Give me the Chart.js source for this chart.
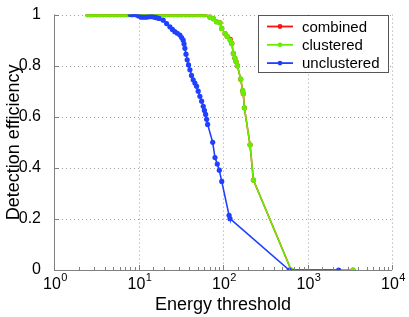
<!DOCTYPE html>
<html>
<head>
<meta charset="utf-8">
<script src="https://cdn.jsdelivr.net/npm/chart.js@4.4.1/dist/chart.umd.min.js"></script>
<style>
  body { margin: 0; background: #fff; }
  canvas { display: block; }
</style>
</head>
<body>
<canvas id="myChart1" width="409" height="317"></canvas>
<script>
// values
var seriesNames = ['combined', 'clustered', 'unclustered'];

var clusteredX = [2.5, 2.7, 2.9, 3.2, 3.5, 3.8, 4.2, 4.6, 5.1, 5.6,
    6.2, 6.8, 7.5, 8.3, 9.2, 10.2, 11.3, 12.5, 13.9, 15.4,
    17, 19, 21, 23.5, 26, 29, 32, 36, 40, 44,
    49, 54, 58, 61, 70, 77, 84, 92, 96.5, 105.7,
    112, 121, 127, 132.5, 138, 142.6, 148, 162, 171, 174,
    179, 209, 229, 641, 3460];
var clusteredY = [1, 1, 1, 1, 1, 1, 1, 1, 1, 1,
    1, 1, 1, 1, 1, 1, 1, 1, 1, 1,
    1, 1, 1, 1, 1, 1, 1, 1, 1, 1,
    1, 1, 1, 1, 0.991, 0.984, 0.972, 0.968, 0.946, 0.926,
    0.915, 0.9, 0.887, 0.848, 0.83, 0.816, 0.8, 0.747, 0.702, 0.69,
    0.635, 0.49, 0.352, 0, 0];

var combinedX = [2.5, 2.7, 2.9, 3.2, 3.5, 3.8, 4.2, 4.6, 5.1, 5.6,
    6.2, 6.8, 7.5, 8.3, 9.2, 10.2, 11.3, 12.5, 13.9, 15.4,
    17, 19, 21, 23.5, 26, 29, 32, 36, 40, 44,
    49, 54, 58, 61, 70, 77, 84, 92, 96.5, 105.7,
    112, 122, 127, 132.5, 138, 142.6, 148, 162, 171, 174,
    179, 209, 229, 641, 3460];
var combinedY = [1, 1, 1, 1, 1, 1, 1, 1, 1, 1,
    1, 1, 1, 1, 1, 1, 1, 1, 1, 1,
    1, 1, 1, 1, 1, 1, 1, 1, 1, 1,
    1, 1, 1, 1, 0.991, 0.984, 0.972, 0.968, 0.946, 0.926,
    0.915, 0.903, 0.887, 0.848, 0.83, 0.816, 0.8, 0.747, 0.702, 0.69,
    0.635, 0.49, 0.352, 0, 0];

var unclusteredX = [8.0, 8.6, 9.3, 10.0, 10.8, 11.6, 12.5, 13.5, 14.6, 15.5,
    16.3, 17.5, 19.6, 21.5, 23.5, 25.2, 26.9, 28.8, 30.9, 32.4,
    33.8, 34.6, 35.4, 36.5, 37.7, 39.1, 40.6, 42.4, 44.4, 46.5,
    48.7, 50.9, 53.3, 55.9, 58.4, 60.3, 62.3, 64, 65.8, 75.5,
    80.4, 85.6, 90.4, 96.6, 118, 121, 607, 2337];
var unclusteredY = [1, 1, 1, 0.995, 0.99, 0.99, 0.99, 0.992, 0.992, 0.99,
    0.988, 0.985, 0.978, 0.965, 0.952, 0.942, 0.933, 0.927, 0.92, 0.91,
    0.9, 0.885, 0.868, 0.845, 0.823, 0.803, 0.784, 0.762, 0.745, 0.732,
    0.719, 0.7, 0.68, 0.661, 0.641, 0.625, 0.609, 0.59, 0.57, 0.5,
    0.44, 0.415, 0.391, 0.347, 0.214, 0.201, 0, 0];

var xTickExps = [0, 1, 2, 3, 4];
var yTicks = [0, 0.2, 0.4, 0.6, 0.8, 1];

var FONT = '"Liberation Sans", Arial, sans-serif';
Chart.defaults.font.family = FONT;
Chart.defaults.color = '#000';

function pts(xs, ys) {
    var out = [];
    for (var i in xs) {
        out.push({x: xs[i], y: ys[i]});
    }
    return out;
}

function isPow10(v) {
    var l = Math.log10(v);
    return Math.abs(l - Math.round(l)) < 1e-9;
}

function series(label, data, color, order) {
    return {
        label: label,
        data: data,
        borderColor: color,
        backgroundColor: color,
        pointBackgroundColor: color,
        pointBorderWidth: 0,
        pointRadius: 2.6,
        borderWidth: 1.6,
        order: order
    };
}

// dotted grid, ticks inside the axes, 10^n labels, and the boxed legend
var decor = {
    id: 'decor',
    beforeDatasetsDraw: function(chart) {
        var ctx = chart.ctx, a = chart.chartArea;
        var xs = chart.scales.x, ys = chart.scales.y;
        ctx.save();
        ctx.strokeStyle = '#a0a0a0';
        ctx.lineWidth = 1;
        ctx.setLineDash([1, 3]);
        xTickExps.forEach(function(e) {
            var px = Math.round(xs.getPixelForValue(Math.pow(10, e))) + 0.5;
            ctx.beginPath();
            ctx.moveTo(px, a.top);
            ctx.lineTo(px, a.bottom);
            ctx.stroke();
        });
        yTicks.forEach(function(v) {
            var py = Math.round(ys.getPixelForValue(v)) + 0.5;
            ctx.beginPath();
            ctx.moveTo(a.left, py);
            ctx.lineTo(a.right, py);
            ctx.stroke();
        });
        ctx.setLineDash([]);
        ctx.strokeStyle = '#808080';
        ctx.beginPath();
        ctx.moveTo(Math.round(a.left) + 0.5, a.top);
        ctx.lineTo(Math.round(a.left) + 0.5, Math.round(a.bottom) + 0.5);
        ctx.lineTo(a.right, Math.round(a.bottom) + 0.5);
        ctx.stroke();
        ctx.restore();
    },
    afterDraw: function(chart) {
        var ctx = chart.ctx, a = chart.chartArea;
        var xs = chart.scales.x, ys = chart.scales.y;
        ctx.save();
        ctx.strokeStyle = '#808080';
        ctx.lineWidth = 1;
        xs.ticks.forEach(function(t) {
            var px = Math.round(xs.getPixelForValue(t.value)) + 0.5;
            var len = isPow10(t.value) ? 5 : 3;
            ctx.beginPath();
            ctx.moveTo(px, a.bottom);
            ctx.lineTo(px, a.bottom - len);
            ctx.stroke();
        });
        yTicks.forEach(function(v) {
            var py = Math.round(ys.getPixelForValue(v)) + 0.5;
            ctx.beginPath();
            ctx.moveTo(a.left, py);
            ctx.lineTo(a.left + 5, py);
            ctx.stroke();
        });

        ctx.fillStyle = '#000';
        ctx.textBaseline = 'alphabetic';
        ctx.textAlign = 'left';
        xTickExps.forEach(function(e) {
            var px = xs.getPixelForValue(Math.pow(10, e));
            ctx.font = '16px ' + FONT;
            var w1 = ctx.measureText('10').width;
            ctx.font = '11px ' + FONT;
            var w2 = ctx.measureText(String(e)).width;
            var x0 = px - (w1 + w2) / 2 + 1;
            ctx.font = '16px ' + FONT;
            ctx.fillText('10', x0, 289);
            ctx.font = '11px ' + FONT;
            ctx.fillText(String(e), x0 + w1 + 0.5, 281);
        });

        // legend box
        var bx = 258.5, by = 15.5, bw = 130, bh = 57;
        ctx.fillStyle = '#fff';
        ctx.fillRect(bx, by, bw, bh);
        ctx.strokeStyle = '#555';
        ctx.strokeRect(bx, by, bw, bh);
        ctx.font = '15px ' + FONT;
        ctx.textBaseline = 'middle';
        chart.data.datasets.forEach(function(ds, i) {
            var ly = 26.5 + i * 18.3;
            ctx.strokeStyle = ds.borderColor;
            ctx.lineWidth = 1.8;
            ctx.beginPath();
            ctx.moveTo(267, ly);
            ctx.lineTo(293, ly);
            ctx.stroke();
            ctx.fillStyle = ds.borderColor;
            ctx.beginPath();
            ctx.arc(280, ly, 2.4, 0, Math.PI * 2);
            ctx.fill();
            ctx.fillStyle = '#000';
            ctx.fillText(ds.label, 302, ly + 1);
        });
        ctx.restore();
    }
};

var chartdata = {
    datasets: [
        series(seriesNames[0], pts(combinedX, combinedY), '#ff1010', 3),
        series(seriesNames[1], pts(clusteredX, clusteredY), '#66ee00', 2),
        series(seriesNames[2], pts(unclusteredX, unclusteredY), '#2040ff', 1)
    ]
};

var ctx = document.getElementById('myChart1');

var LineGraph = new Chart(ctx, {
    type: 'line',
    data: chartdata,
    plugins: [decor],
    options: {
        responsive: false,
        animation: false,
        layout: { padding: { top: 13, right: 17, left: 0, bottom: 0 } },
        plugins: {
            legend: { display: false },
            tooltip: { enabled: false }
        },
        scales: {
            x: {
                type: 'logarithmic',
                min: 1,
                max: 10000,
                afterFit: function(s) { s.height = 47; },
                ticks: { display: false },
                grid: { display: false },
                border: { display: false },
                title: {
                    display: true,
                    text: 'Energy threshold',
                    font: { size: 18 },
                    padding: { top: 0, bottom: 1 }
                }
            },
            y: {
                min: 0,
                max: 1,
                afterFit: function(s) { s.width = 54; },
                ticks: {
                    stepSize: 0.2,
                    padding: 5,
                    font: { size: 16 },
                    callback: function(v) { return String(Math.round(v * 10) / 10); }
                },
                grid: { display: false },
                border: { display: false },
                title: {
                    display: true,
                    text: 'Detection efficiency',
                    font: { size: 18 },
                    padding: { top: 3, bottom: 0 }
                }
            }
        }
    }
});
</script>
</body>
</html>
